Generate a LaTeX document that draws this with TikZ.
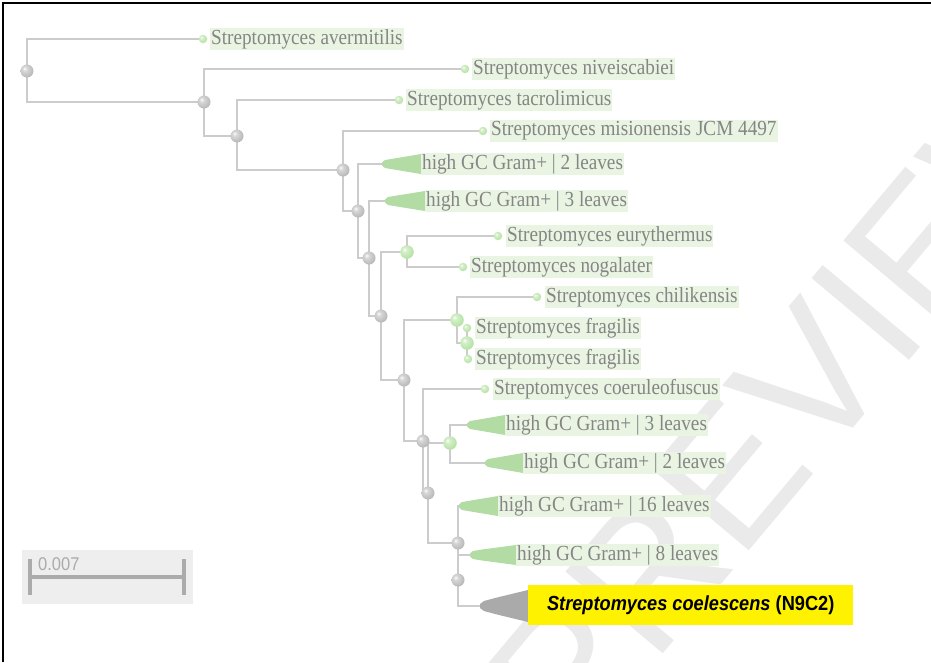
\documentclass[tikz,border=0pt]{standalone}
\usepackage{fontspec}
\usepackage{graphicx}
\setmainfont{Liberation Serif}
\newfontfamily\arialf{Liberation Sans}
\definecolor{brgray}{HTML}{CCCCCC}
\definecolor{labbg}{HTML}{E9F4E2}
\definecolor{labtxt}{HTML}{858585}
\definecolor{cladegreen}{HTML}{B3DCA5}
\definecolor{nodegray}{HTML}{B8B8B8}
\definecolor{nodegraydk}{HTML}{8E8E8E}
\definecolor{nodegreen}{HTML}{B4E2A2}
\definecolor{nodegreendk}{HTML}{8CC679}
\definecolor{wmgray}{HTML}{EAEAEA}
\definecolor{sbbg}{HTML}{EEEEEE}
\definecolor{sbbar}{HTML}{ABABAB}
\definecolor{coelgray}{HTML}{AAAAAA}
\pgfdeclareradialshading{grayball}{\pgfqpoint{-10bp}{10bp}}{color(0bp)=(white); color(8bp)=(nodegray!55!white); color(30bp)=(nodegray); color(45bp)=(nodegraydk); color(70bp)=(nodegraydk)}
\pgfdeclareradialshading{greenball}{\pgfqpoint{-10bp}{10bp}}{color(0bp)=(white); color(8bp)=(nodegreen!55!white); color(30bp)=(nodegreen); color(45bp)=(nodegreendk); color(70bp)=(nodegreendk)}
\newcommand\vs[1]{\scalebox{1}[1.12]{#1}}
\newcommand\cladetri[4]{%
  \fill[#4] (#1,#3-1.5) -- (#1+3,#3-4) -- (#1+12,#3-5.5) -- (#2,#3-10) -- (#2,#3+10) -- (#1+12,#3+5.5) -- (#1+3,#3+4) -- (#1,#3+1.5) -- cycle;}
\tikzset{
  branch/.style={draw=brgray, line width=1.5pt},
  inode/.style={circle, inner sep=0pt, minimum size=13pt, shading=grayball},
  gnode/.style={circle, inner sep=0pt, minimum size=13.5pt, shading=greenball},
  ldot/.style={circle, inner sep=0pt, minimum size=8.5pt, shading=greenball},
  lab/.style={anchor=west, fill=labbg, text=labtxt, inner xsep=1pt, inner ysep=0pt, minimum height=22pt, font=\fontsize{19.2}{20}\selectfont},
  clade/.style={fill=cladegreen},
}
\begin{document}
\begin{tikzpicture}[x=1pt,y=-1pt]
\useasboundingbox (0,0) rectangle (931,662);
% watermark
\node[rotate=50, text=wmgray, font=\arialf\fontsize{185}{185}\selectfont, inner sep=0pt] (wm) at (800,392) {PREVIEW};
% border
\draw[line width=1.5pt] (3,662) -- (3,3) -- (931,3);
% scale bar
\fill[sbbg] (22,550) rectangle (193,604);
\draw[sbbar, line width=4.5pt] (30,577) -- (184,577);
\draw[sbbar, line width=4.5pt] (30,559) -- (30,595);
\draw[sbbar, line width=4.5pt] (184,559) -- (184,595);
\node[anchor=base west, text=sbbar, font=\arialf\fontsize{16.5}{17}\selectfont, inner sep=0pt] (sbl) at (38,570) {\vs{0.007}};
% internal node positions
\coordinate (r0) at (27,71);
\coordinate (n1) at (204,102);
\coordinate (n2) at (237,136);
\coordinate (n3) at (343,170);
\coordinate (n4) at (358,211);
\coordinate (n5) at (369,258);
\coordinate (n6) at (381,316);
\coordinate (g1) at (407,252);
\coordinate (n7) at (404,380);
\coordinate (g2) at (457,320);
\coordinate (g3) at (467,343);
\coordinate (n8) at (423,441);
\coordinate (n9) at (428,493);
\coordinate (g4) at (450,443);
\coordinate (n10) at (458,543);
\coordinate (n11) at (458,580);
% leaves
\coordinate (l1) at (203,39);
\coordinate (l2) at (465,69);
\coordinate (l3) at (399,100);
\coordinate (l4) at (483,131);
\coordinate (c1) at (382,164);
\coordinate (c2) at (385,201);
\coordinate (l7) at (498,236);
\coordinate (l8) at (463,267);
\coordinate (l9) at (537,297);
\coordinate (l10) at (467,328);
\coordinate (l11) at (468,359);
\coordinate (l12) at (485,389);
\coordinate (c3) at (467,425);
\coordinate (c4) at (485,463);
\coordinate (c5) at (459,506);
\coordinate (c6) at (470,555);
\coordinate (c7) at (480,606);
% branches
\draw[branch] (r0) |- (l1); \draw[branch] (r0) |- (n1);
\draw[branch] (n1) |- (l2); \draw[branch] (n1) |- (n2);
\draw[branch] (n2) |- (l3); \draw[branch] (n2) |- (n3);
\draw[branch] (n3) |- (l4); \draw[branch] (n3) |- (n4);
\draw[branch] (n4) |- (c1); \draw[branch] (n4) |- (n5);
\draw[branch] (n5) |- (c2); \draw[branch] (n5) |- (n6);
\draw[branch] (n6) |- (g1); \draw[branch] (n6) |- (n7);
\draw[branch] (g1) |- (l7); \draw[branch] (g1) |- (l8);
\draw[branch] (n7) |- (g2); \draw[branch] (n7) |- (n8);
\draw[branch] (g2) |- (l9); \draw[branch] (g2) |- (g3);
\draw[branch] (g3) |- (l10); \draw[branch] (g3) |- (l11);
\draw[branch] (n8) |- (l12); \draw[branch] (n8) |- (n9);
\draw[branch] (n9) |- (g4); \draw[branch] (n9) |- (n10);
\draw[branch] (g4) |- (c3); \draw[branch] (g4) |- (c4);
\draw[branch] (n10) |- (c5); \draw[branch] (n10) |- (n11);
\draw[branch] (n11) |- (c6); \draw[branch] (n11) |- (c7);
% collapsed clades
\cladetri{382}{421}{164}{clade}
\cladetri{385}{425}{201}{clade}
\cladetri{467}{505}{425}{clade}
\cladetri{485}{523}{463}{clade}
\cladetri{459}{498}{506}{clade}
\cladetri{470}{516}{555}{clade}
\fill[coelgray] (480,604) -- (484,601) -- (495,598) -- (528,590) -- (528,622) -- (495,614) -- (484,611) -- (480,608) -- cycle;
% labels
\node[lab] (t1) at (210,39) {\vs{Streptomyces avermitilis}};
\node[lab] (t2) at (472,69) {\vs{Streptomyces niveiscabiei}};
\node[lab] (t3) at (406,100) {\vs{Streptomyces tacrolimicus}};
\node[lab] (t4) at (490,131) {\vs{Streptomyces misionensis JCM 4497}};
\node[lab] (tc1) at (421,164) {\vs{high GC Gram+ | 2 leaves}};
\node[lab] (tc2) at (425,201) {\vs{high GC Gram+ | 3 leaves}};
\node[lab] (t7) at (506,236) {\vs{Streptomyces eurythermus}};
\node[lab] (t8) at (470,267) {\vs{Streptomyces nogalater}};
\node[lab] (t9) at (545,297) {\vs{Streptomyces chilikensis}};
\node[lab] (t10) at (475,328) {\vs{Streptomyces fragilis}};
\node[lab] (t11) at (475,359) {\vs{Streptomyces fragilis}};
\node[lab] (t12) at (493,389) {\vs{Streptomyces coeruleofuscus}};
\node[lab] (tc3) at (505,425) {\vs{high GC Gram+ | 3 leaves}};
\node[lab] (tc4) at (523,463) {\vs{high GC Gram+ | 2 leaves}};
\node[lab] (tc5) at (498,506) {\vs{high GC Gram+ | 16 leaves}};
\node[lab] (tc6) at (516,555) {\vs{high GC Gram+ | 8 leaves}};
\node[fill=yellow, anchor=west, minimum width=325pt, minimum height=40pt, inner sep=0pt, font=\arialf\bfseries\fontsize{18.2}{19}\selectfont] (tc7) at (528,605) {\vs{\textit{Streptomyces coelescens} (N9C2)}};
% internal node markers
\node[inode] (m0) at (r0) {};
\node[inode] (m1) at (n1) {};
\node[inode] (m2) at (n2) {};
\node[inode] (m3) at (n3) {};
\node[inode] (m4) at (n4) {};
\node[inode] (m5) at (n5) {};
\node[inode] (m6) at (n6) {};
\node[inode] (m7) at (n7) {};
\node[inode] (m8) at (n8) {};
\node[inode] (m9) at (n9) {};
\node[inode] (m10) at (n10) {};
\node[inode] (m11) at (n11) {};
\node[gnode] (mg1) at (g1) {};
\node[gnode] (mg2) at (g2) {};
\node[gnode] (mg3) at (g3) {};
\node[gnode] (mg4) at (g4) {};
% leaf markers
\node[ldot] (d1) at (l1) {};
\node[ldot] (d2) at (l2) {};
\node[ldot] (d3) at (l3) {};
\node[ldot] (d4) at (l4) {};
\node[ldot] (d7) at (l7) {};
\node[ldot] (d8) at (l8) {};
\node[ldot] (d9) at (l9) {};
\node[ldot] (d10) at (l10) {};
\node[ldot] (d11) at (l11) {};
\node[ldot] (d12) at (l12) {};
\end{tikzpicture}
\end{document}
